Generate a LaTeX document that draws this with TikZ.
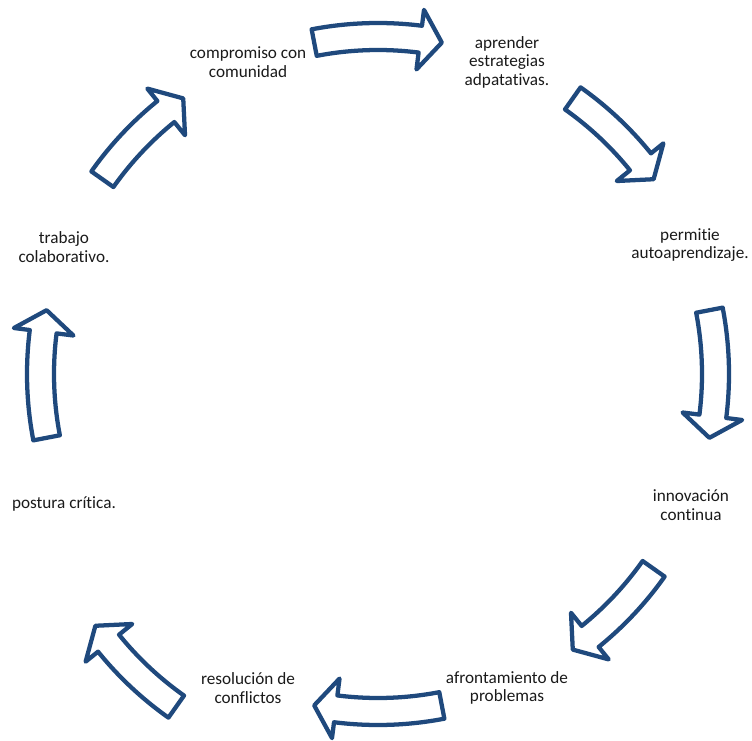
\documentclass[tikz,border=0pt]{standalone}
\usepackage{fontspec}
\setmainfont{Carlito}[Ligatures={NoCommon}]
\usetikzlibrary{calc}
\definecolor{arrowblue}{HTML}{1F497D}
\definecolor{txt}{HTML}{1A1A1A}
\tikzset{
  arrowshape/.style={draw=arrowblue, fill=white, line width=3.2pt, line join=round},
  label/.style={align=center, inner sep=0pt, text=txt, font=\fontsize{12.9}{13.9}\selectfont}
}
% #1 centre angle, #2 half span, #3 head base offset, #4 shift
\newcommand{\cycarrow}[4]{%
  \begin{scope}[shift={(378,366)}, shift={#4}]
    \draw[arrowshape] (#1+#2:351) arc[start angle=#1+#2, end angle=#1-#3, radius=351]
      -- (#1-#3:367) -- (#1-#2:337.5) -- (#1-#3:307) -- (#1-#3:324)
      arc[start angle=#1-#3, end angle=#1+#2, radius=324] -- cycle;
  \end{scope}}
\begin{document}
\begin{tikzpicture}[x=0.75pt, y=0.75pt]
  \useasboundingbox (0,0) rectangle (752,740);
  \coordinate (C) at (378,366);
  % arrows
  \cycarrow{90}{10.9}{7.2}{(0,0)}
  \cycarrow{45}{9.75}{6.05}{(0,0)}
  \cycarrow{0}{10.9}{7.2}{(0,0)}
  \cycarrow{-45}{9.75}{6.05}{(0,0)}
  \cycarrow{-90}{10.9}{7.2}{(0,0)}
  \cycarrow{-135}{9.75}{6.05}{(-7,-57)}
  \cycarrow{180}{10.9}{7.2}{(0,0)}
  \cycarrow{135}{9.75}{6.05}{(0,0)}
  % labels
  \node[label] (n1) at (248,678) {compromiso con\\comunidad};
  \node[label] (n2) at (507,678) {aprender\\estrategias\\adpatativas.};
  \node[label] (n3) at (690,495) {permitie\\autoaprendizaje.};
  \node[label] (n4) at (691,235) {innovación\\continua};
  \node[label] (n5) at (507,52) {afrontamiento de\\problemas};
  \node[label] (n6) at (248,52) {resolución de\\conflictos};
  \node[label] (n7) at (64,236) {postura crítica.};
  \node[label] (n8) at (64,493) {trabajo\\colaborativo.};
\end{tikzpicture}
\end{document}
